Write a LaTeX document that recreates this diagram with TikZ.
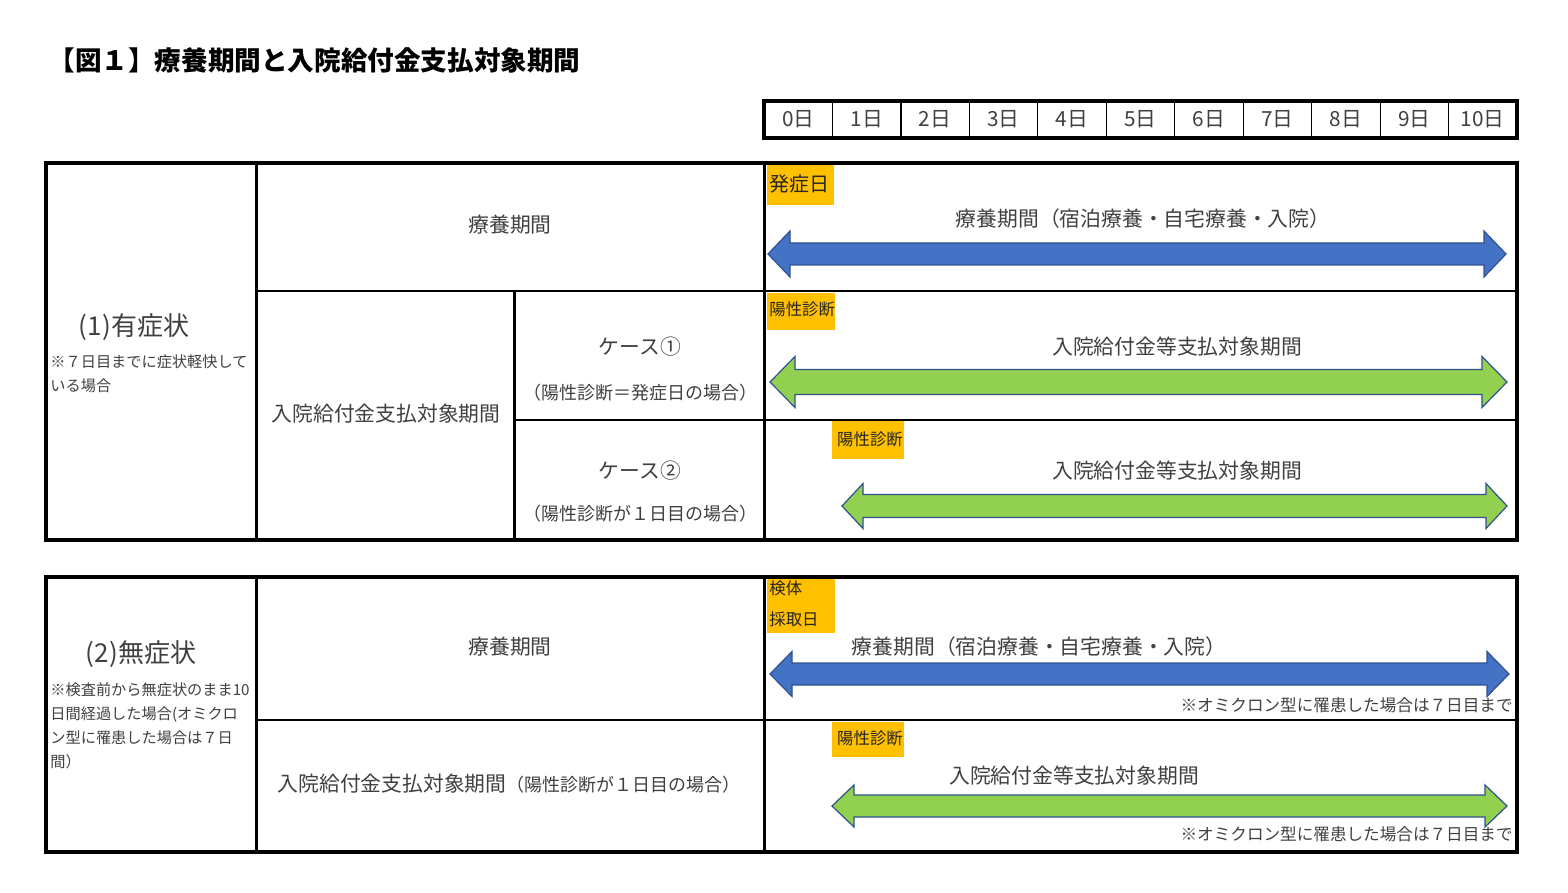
\documentclass[tikz,border=0pt]{standalone}
\usepackage{fontspec}
\setmainfont{Noto Sans CJK JP}
\definecolor{txtgray}{HTML}{404040}
\definecolor{orangeY}{HTML}{FFC000}
\definecolor{arrblue}{HTML}{4472C4}
\definecolor{arrgreen}{HTML}{92D050}
\definecolor{edgeblue}{HTML}{2F528F}
\definecolor{labdark}{HTML}{262626}
\newcommand{\DArrow}[7]{%
  \path[#1] (#2,#4) -- ({#2+#5},{#4-#6}) -- ({#2+#5},{#4-#7}) -- ({#3-#5},{#4-#7})
    -- ({#3-#5},{#4-#6}) -- (#3,#4) -- ({#3-#5},{#4+#6}) -- ({#3-#5},{#4+#7})
    -- ({#2+#5},{#4+#7}) -- ({#2+#5},{#4+#6}) -- cycle;}
\tikzset{
  outerline/.style={line width=2pt, black},
  vline/.style={line width=1.5pt, black},
  hline/.style={line width=1pt, black},
  thinline/.style={line width=0.6pt, black},
  txt/.style={text=txtgray, inner sep=0pt, font=\fontsize{10.4}{12}\selectfont},
  smalltxt/.style={text=txtgray, inner sep=0pt, font=\fontsize{9}{12}\selectfont},
  bigtxt/.style={text=txtgray, inner sep=0pt, font=\fontsize{13}{15}\selectfont},
  notetxt/.style={text=txtgray, inner sep=0pt, font=\fontsize{7.6}{12}\selectfont, align=left, anchor=north west},
  endnote/.style={text=txtgray, inner sep=0pt, font=\fontsize{8.3}{10}\selectfont, anchor=east},
  olab/.style={text=labdark, inner sep=0pt, font=\fontsize{8.2}{15.5}\selectfont},
  bluearrow/.style={fill=arrblue, draw=edgeblue, line width=0.6pt},
  greenarrow/.style={fill=arrgreen, draw=edgeblue, line width=0.6pt},
}
\begin{document}
\begin{tikzpicture}[x=0.5pt, y=-0.5pt]
\path[fill=white] (0,0) rectangle (1568,893);
% title
\node[anchor=west, inner sep=0pt, font=\fontsize{13.3}{15}\selectfont\bfseries] (title) at (48,60) {【図１】療養期間と入院給付金支払対象期間};
% day header
\foreach \i in {0,...,10} {
  \node[txt] (d\i) at ({764+(\i+0.5)*68.4545},119) {\i 日};
}
\foreach \i in {1,...,10} {
  \draw[thinline] ({764+\i*68.4545},101) -- ({764+\i*68.4545},138);
}
\draw[outerline] (764,101) rectangle (1517,138);

% ===== top table =====
\draw[hline] (256,291) -- (1517,291);
\draw[hline] (514,420) -- (1517,420);
\draw[vline] (256,163) -- (256,540);
\draw[vline] (514,291) -- (514,540);
\draw[vline] (764,163) -- (764,540);
\draw[outerline] (46,163) rectangle (1517,540);

\node[bigtxt] (sym) at (134,327) {(1)有症状};
\node[notetxt] (symnote) at (50,354) {※７日目までに症状軽快して\\いる場合};
\node[txt] (ryo1) at (510,225) {療養期間};
\node[txt] (nyu1) at (386,414) {入院給付金支払対象期間};
\node[txt] (case1) at (640,347) {ケース①};
\node[smalltxt] (case1p) at (640,393) {（陽性診断＝発症日の場合）};
\node[txt] (case2) at (640,471) {ケース②};
\node[smalltxt] (case2p) at (640,514) {（陽性診断が１日目の場合）};

% orange labels
\path[fill=orangeY] (767,165) rectangle (834,205);
\node[olab, font=\fontsize{10}{12}\selectfont, anchor=west] (o1) at (769,184) {発症日};
\path[fill=orangeY] (767,293) rectangle (835,330);
\node[olab, anchor=west] (o2) at (769,309) {陽性診断};
\path[fill=orangeY] (832,421) rectangle (904,459);
\node[olab] (o3) at (870,439) {陽性診断};

% arrows
\DArrow{bluearrow}{768}{1506}{254}{22}{23}{11}
\node[txt] (a1) at (1143,219) {療養期間（宿泊療養・自宅療養・入院）};
\DArrow{greenarrow}{770}{1507}{382}{25}{25.5}{12.5}
\node[txt] (a2) at (1177,347) {入院給付金等支払対象期間};
\DArrow{greenarrow}{842}{1507}{506}{21}{22.5}{11.5}
\node[txt] (a3) at (1177,471) {入院給付金等支払対象期間};

% ===== bottom table =====
\draw[hline] (256,720) -- (1517,720);
\draw[vline] (256,577) -- (256,852);
\draw[vline] (764,577) -- (764,852);
\draw[outerline] (46,577) rectangle (1517,852);

\node[bigtxt] (asym) at (141,654) {(2)無症状};
\node[notetxt] (asymnote) at (50,682) {※検査前から無症状のまま10\\日間経過した場合(オミクロ\\ン型に罹患した場合は７日\\間）};
\node[txt] (ryo2) at (510,647) {療養期間};
\node[txt] (nyu2) at (509,784) {入院給付金支払対象期間{\fontsize{9}{12}\selectfont（陽性診断が１日目の場合）}};

\path[fill=orangeY] (767,579) rectangle (835,633);
\node[olab, anchor=north west, align=left] (o4) at (769,580) {検体\\採取日};
\path[fill=orangeY] (832,722) rectangle (904,757);
\node[olab] (o5) at (870,738) {陽性診断};

\DArrow{bluearrow}{770}{1509}{674}{22}{22.5}{11}
\node[txt] (a4) at (1039,647) {療養期間（宿泊療養・自宅療養・入院）};
\node[endnote] (n1) at (1513,705) {※オミクロン型に罹患した場合は７日目まで};
\DArrow{greenarrow}{832}{1507}{806}{22}{21}{11}
\node[txt] (a5) at (1074,776) {入院給付金等支払対象期間};
\node[endnote] (n2) at (1513,834) {※オミクロン型に罹患した場合は７日目まで};
\end{tikzpicture}
\end{document}
